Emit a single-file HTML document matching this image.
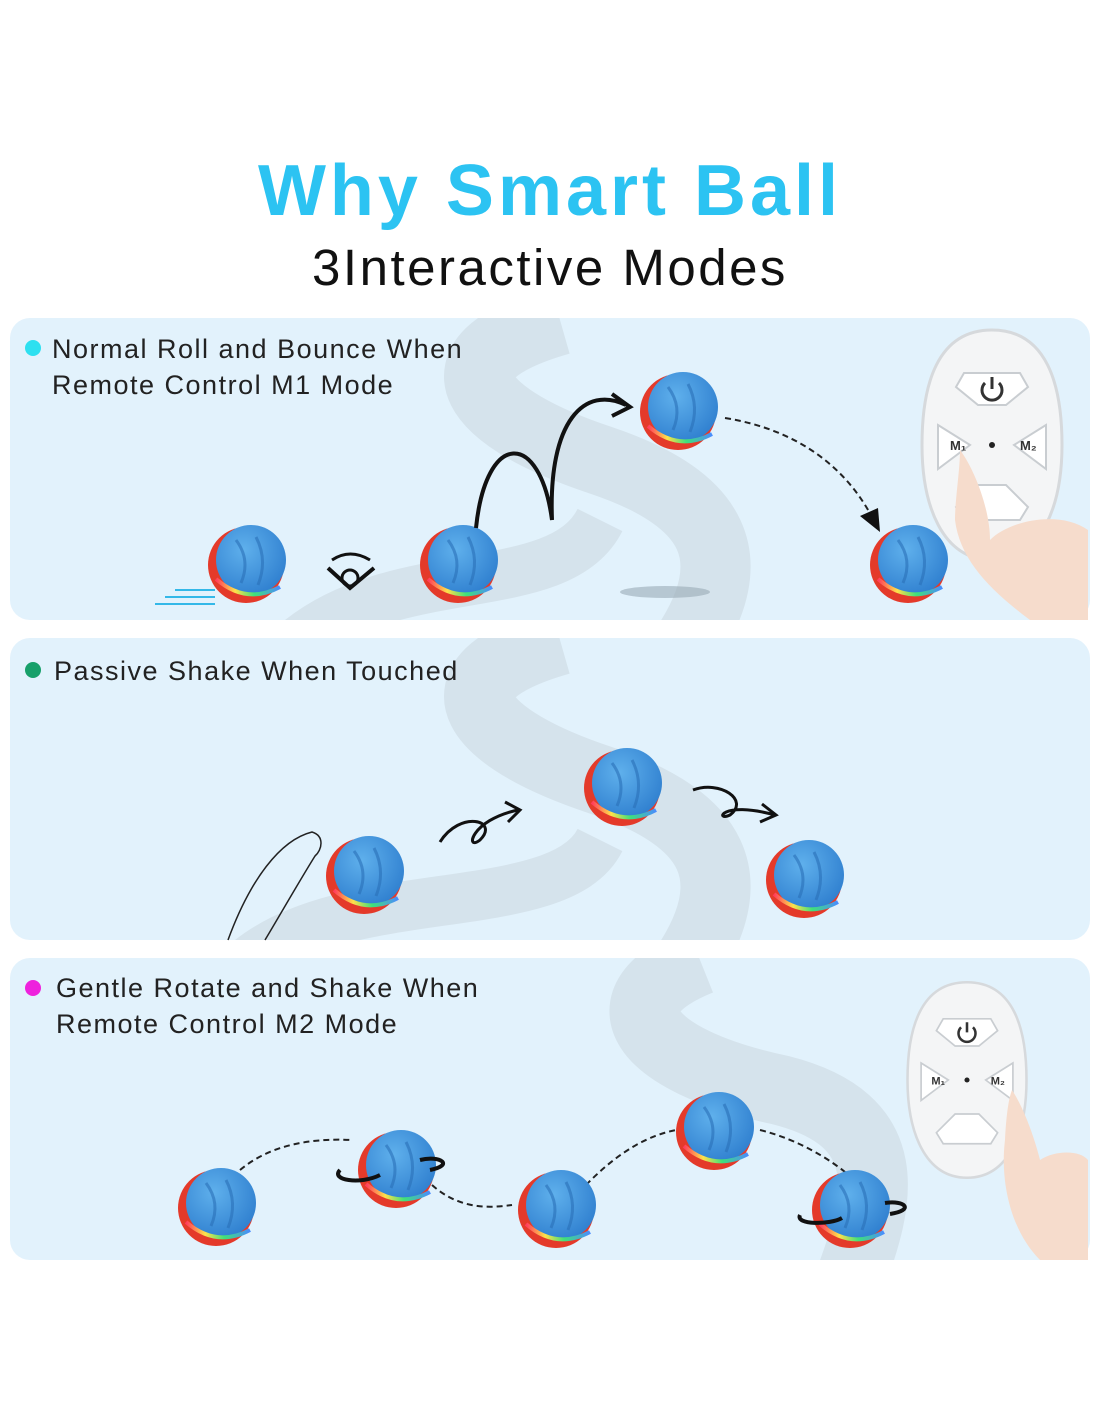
<!DOCTYPE html>
<html><head><meta charset="utf-8"><style>
body{margin:0;background:#fff;width:1100px;height:1422px;overflow:hidden;font-family:"Liberation Sans",sans-serif}
</style></head><body>
<svg width="1100" height="1422" viewBox="0 0 1100 1422" xmlns="http://www.w3.org/2000/svg" font-family="Liberation Sans, sans-serif">
<defs>
<radialGradient id="bg" cx="0.4" cy="0.35" r="0.7"><stop offset="0" stop-color="#5fb0ec"/><stop offset="1" stop-color="#2f7fcf"/></radialGradient>
<linearGradient id="rb" x1="0" y1="0" x2="1" y2="0"><stop offset="0" stop-color="#ff3b5c"/><stop offset=".3" stop-color="#ffe04a"/><stop offset=".6" stop-color="#3fe07a"/><stop offset="1" stop-color="#4a8cff"/></linearGradient>
<g id="ball">
<circle r="38" fill="#e43a2a"/>
<circle cx="5" cy="-5" r="35" fill="url(#bg)"/>
<path d="M-30 14 Q0 40 34 22" stroke="url(#rb)" stroke-width="4" fill="none"/>
<path d="M-10 -25 Q5 -5 -5 18 M10 -28 Q22 -5 12 20" stroke="#2a6fb8" stroke-width="3" fill="none" opacity=".6"/>
</g>
<clipPath id="c1"><rect x="10" y="318" width="1080" height="302" rx="20"/></clipPath>
<clipPath id="c2"><rect x="10" y="638" width="1080" height="302" rx="20"/></clipPath>
<clipPath id="c3"><rect x="10" y="958" width="1080" height="302" rx="20"/></clipPath>
<g id="remote">
<path d="M0 -115 C55 -115 70 -60 70 0 C70 60 50 115 0 115 C-50 115 -70 60 -70 0 C-70 -60 -55 -115 0 -115Z" fill="#f4f5f6" stroke="#d6d9dc" stroke-width="3"/>
<path d="M-28 -72 L28 -72 L36 -58 L14 -40 L-14 -40 L-36 -58Z" fill="#fff" stroke="#c9cdd1" stroke-width="2"/>
<path d="M-54 -20 L-22 0 L-54 24 Z" fill="#fff" stroke="#c9cdd1" stroke-width="2"/>
<path d="M54 -20 L22 0 L54 24 Z" fill="#fff" stroke="#c9cdd1" stroke-width="2"/>
<path d="M-14 40 L14 40 L36 62 L28 75 L-28 75 L-36 62Z" fill="#fff" stroke="#c9cdd1" stroke-width="2"/>
<circle r="3" fill="#222"/>
<path d="M-7 -62 A10 10 0 1 0 7 -62 M0 -68 L0 -56" stroke="#333" stroke-width="3" fill="none"/>
<text x="-42" y="5" font-size="13" font-weight="bold" fill="#333">M₁</text>
<text x="28" y="5" font-size="13" font-weight="bold" fill="#333">M₂</text>
</g>
</defs>
<text x="550" y="215" text-anchor="middle" font-size="72" font-weight="bold" letter-spacing="4" fill="#2cc3f2">Why Smart Ball</text>
<text x="550" y="285" text-anchor="middle" font-size="51" letter-spacing="2.5" fill="#111">3Interactive Modes</text>

<!-- panel 1 -->
<rect x="10" y="318" width="1080" height="302" rx="20" fill="#e2f2fc"/>
<g clip-path="url(#c1)" fill="none" stroke="#d5e3ec" stroke-width="70">
<path d="M560 320 C420 360 480 420 600 460 C720 500 740 560 690 640"/>
<path d="M300 640 C400 560 560 600 600 520" stroke-width="50"/>
</g>
<circle cx="33" cy="348" r="8" fill="#2ee0f0"/>
<text x="52" y="358" font-size="27" letter-spacing="1.5" fill="#222">Normal Roll and Bounce When</text>
<text x="52" y="394" font-size="27" letter-spacing="1.5" fill="#222">Remote Control M1 Mode</text>
<use href="#ball" x="246" y="565"/><use href="#ball" x="458" y="565"/><use href="#ball" x="678" y="412"/><use href="#ball" x="908" y="565"/>
<path d="M155 604h60M165 597h50M175 590h40" stroke="#33b8e8" stroke-width="2"/>
<path d="M328 568 L350 588 L374 568" stroke="#111" stroke-width="4" fill="none"/><circle cx="350" cy="578" r="8" stroke="#111" stroke-width="3" fill="none"/>
<path d="M332 560 Q350 548 370 560" stroke="#111" stroke-width="3" fill="none"/>
<path d="M476 528 C486 430 540 430 552 520 C548 420 585 385 626 405" stroke="#111" stroke-width="4" fill="none"/>
<path d="M612 394 L630 407 L612 416" stroke="#111" stroke-width="4" fill="none"/>
<path d="M725 418 C800 430 850 470 876 525" stroke="#222" stroke-width="2" stroke-dasharray="6 4" fill="none"/>
<path d="M860 516 L880 532 L878 508Z" fill="#111"/>
<ellipse cx="665" cy="592" rx="45" ry="6" fill="#9aaab5" opacity=".6"/>
<use href="#remote" x="992" y="445"/>
<path d="M960 450 C975 470 990 510 990 540 C1010 520 1060 510 1088 530 L1088 620 L1030 620 C990 590 960 560 955 520 C955 500 960 470 960 450Z" fill="#f6dccc"/>

<!-- panel 2 -->
<rect x="10" y="638" width="1080" height="302" rx="20" fill="#e2f2fc"/>
<g clip-path="url(#c2)" fill="none" stroke="#d5e3ec" stroke-width="70">
<path d="M560 640 C420 680 480 740 600 780 C720 820 740 880 690 960"/>
<path d="M250 960 C350 880 560 920 600 840" stroke-width="50"/>
</g>
<circle cx="33" cy="670" r="8" fill="#17a06a"/>
<text x="54" y="680" font-size="27" letter-spacing="1.5" fill="#222">Passive Shake When Touched</text>
<path d="M228 940 C250 880 280 840 312 832 C325 836 322 850 315 856 C300 880 280 915 265 940" stroke="#222" stroke-width="1.5" fill="none"/>
<use href="#ball" x="364" y="876"/><use href="#ball" x="622" y="788"/><use href="#ball" x="804" y="880"/>
<path d="M440 842 C460 810 500 820 480 840 C465 852 470 820 518 810" stroke="#111" stroke-width="3" fill="none"/><path d="M505 802 L520 810 L508 822" stroke="#111" stroke-width="3" fill="none"/>
<path d="M693 790 C720 780 750 800 730 815 C715 822 720 800 775 815" stroke="#111" stroke-width="3" fill="none"/><path d="M762 804 L776 815 L760 822" stroke="#111" stroke-width="3" fill="none"/>

<!-- panel 3 -->
<rect x="10" y="958" width="1080" height="302" rx="20" fill="#e2f2fc"/>
<g clip-path="url(#c3)" fill="none" stroke="#d5e3ec" stroke-width="70">
<path d="M700 960 C600 1000 640 1060 780 1090 C900 1120 880 1200 850 1280"/>
</g>
<circle cx="33" cy="988" r="8" fill="#ee22dd"/>
<text x="56" y="997" font-size="27" letter-spacing="1.5" fill="#222">Gentle Rotate and Shake When</text>
<text x="56" y="1033" font-size="27" letter-spacing="1.5" fill="#222">Remote Control M2 Mode</text>
<g stroke="#222" stroke-width="2" stroke-dasharray="6 4" fill="none">
<path d="M240 1170 C270 1145 310 1138 352 1140"/>
<path d="M432 1185 C460 1210 490 1208 512 1205"/>
<path d="M586 1185 C620 1150 650 1135 676 1130"/>
<path d="M760 1130 C800 1140 830 1160 845 1172"/>
</g>
<use href="#ball" x="216" y="1208"/><use href="#ball" x="396" y="1170"/><use href="#ball" x="556" y="1210"/><use href="#ball" x="714" y="1132"/><use href="#ball" x="850" y="1210"/>
<path d="M340 1170 C330 1180 360 1185 380 1175 M420 1160 C440 1155 455 1165 430 1170" stroke="#111" stroke-width="4" fill="none"/>
<path d="M800 1215 C795 1225 830 1225 842 1218 M885 1203 C905 1200 915 1210 890 1214" stroke="#111" stroke-width="4" fill="none"/>
<use href="#remote" x="967" y="1080" transform="translate(967 1080) scale(.85) translate(-967 -1080)"/>
<path d="M1012 1090 C1025 1110 1035 1140 1040 1160 C1055 1150 1080 1150 1088 1160 L1088 1260 L1040 1260 C1010 1230 1000 1180 1005 1140 C1006 1120 1008 1100 1012 1090Z" fill="#f6dccc"/>
</svg>
</body></html>
